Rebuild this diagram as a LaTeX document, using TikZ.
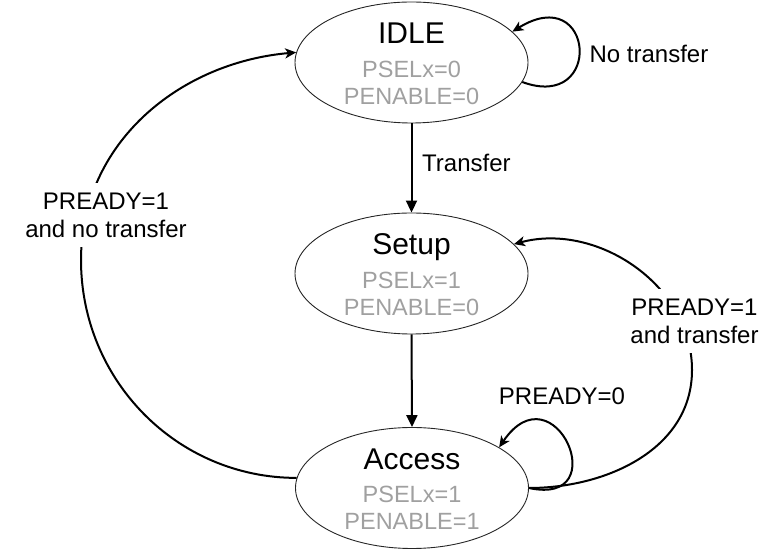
\documentclass[tikz,border=0pt]{standalone}
\usepackage{fontspec}
\setmainfont{Liberation Sans}
\usetikzlibrary{arrows.meta,shapes.geometric}
\definecolor{stategray}{RGB}{160,160,160}
\begin{document}
\begin{tikzpicture}[x=1pt,y=1pt,
  state/.style={ellipse, draw=black!85, line width=0.9pt, minimum width=233pt, minimum height=121pt, inner sep=0pt},
  titletext/.style={font=\fontsize{30}{36}\selectfont, anchor=base, inner sep=0pt},
  subtext/.style={font=\fontsize{23.5}{28}\selectfont, text=stategray, anchor=base, inner sep=0pt},
  lbl/.style={font=\fontsize{24}{28}\selectfont, align=center, inner sep=1pt},
  curvearrow/.style={line width=2pt, -{Stealth[length=11pt,width=10pt,inset=3pt]}},
  straightarrow/.style={line width=2pt, -{Triangle[length=12pt,width=11pt]}}]
\useasboundingbox (0,0) rectangle (779,551);

% states
\node[state] (idle) at (411.5,488.5) {};
\node[state] (setup) at (411.5,277.5) {};
\node[state] (access) at (412,63) {};

\node[titletext] (idleT) at ([yshift=18.75pt]idle.center) {IDLE};
\node[subtext] (idleA) at ([yshift=-14.75pt]idle.center) {PSELx=0};
\node[subtext] (idleB) at ([yshift=-41.75pt]idle.center) {PENABLE=0};

\node[titletext] (setupT) at ([yshift=18.75pt]setup.center) {Setup};
\node[subtext] (setupA) at ([yshift=-14.75pt]setup.center) {PSELx=1};
\node[subtext] (setupB) at ([yshift=-41.75pt]setup.center) {PENABLE=0};

\node[titletext] (accessT) at ([yshift=18.75pt]access.center) {Access};
\node[subtext] (accessA) at ([yshift=-14.75pt]access.center) {PSELx=1};
\node[subtext] (accessB) at ([yshift=-41.75pt]access.center) {PENABLE=1};

% helper coordinates
\coordinate (rr) at (692,181);
\coordinate (ll) at (81,291);

% straight transitions
\draw[straightarrow] (idle.south) -- (setup.north);
\draw[straightarrow] (setup.south) -- (access.north);

% self loops
\draw[curvearrow] (idle.-10) .. controls +(82,-30) and +(82,51) .. (idle.17);
\draw[curvearrow] (access.east) .. controls +(87,-19) and +(55,81) .. (access.25);

% big arcs
\draw[curvearrow] (access.east) to[out=0,in=-90] (rr) to[out=90,in=15] (setup.16);
\draw[curvearrow] (access.175) to[out=180,in=-90] (ll) to[out=90,in=185] (idle.175);

% labels
\node[lbl] (notr) at (649,497) {No transfer};
\node[lbl, anchor=west] (tr) at (421,388.5) {Transfer};
\node[lbl] (pr0) at (562,155) {PREADY=0};
\node[lbl, fill=white, inner ysep=10pt] (pr1t) at (694.5,230) {PREADY=1\\and transfer};
\node[lbl, fill=white, inner ysep=10pt] (pr1n) at (106,336) {PREADY=1\\and no transfer};
\end{tikzpicture}
\end{document}
